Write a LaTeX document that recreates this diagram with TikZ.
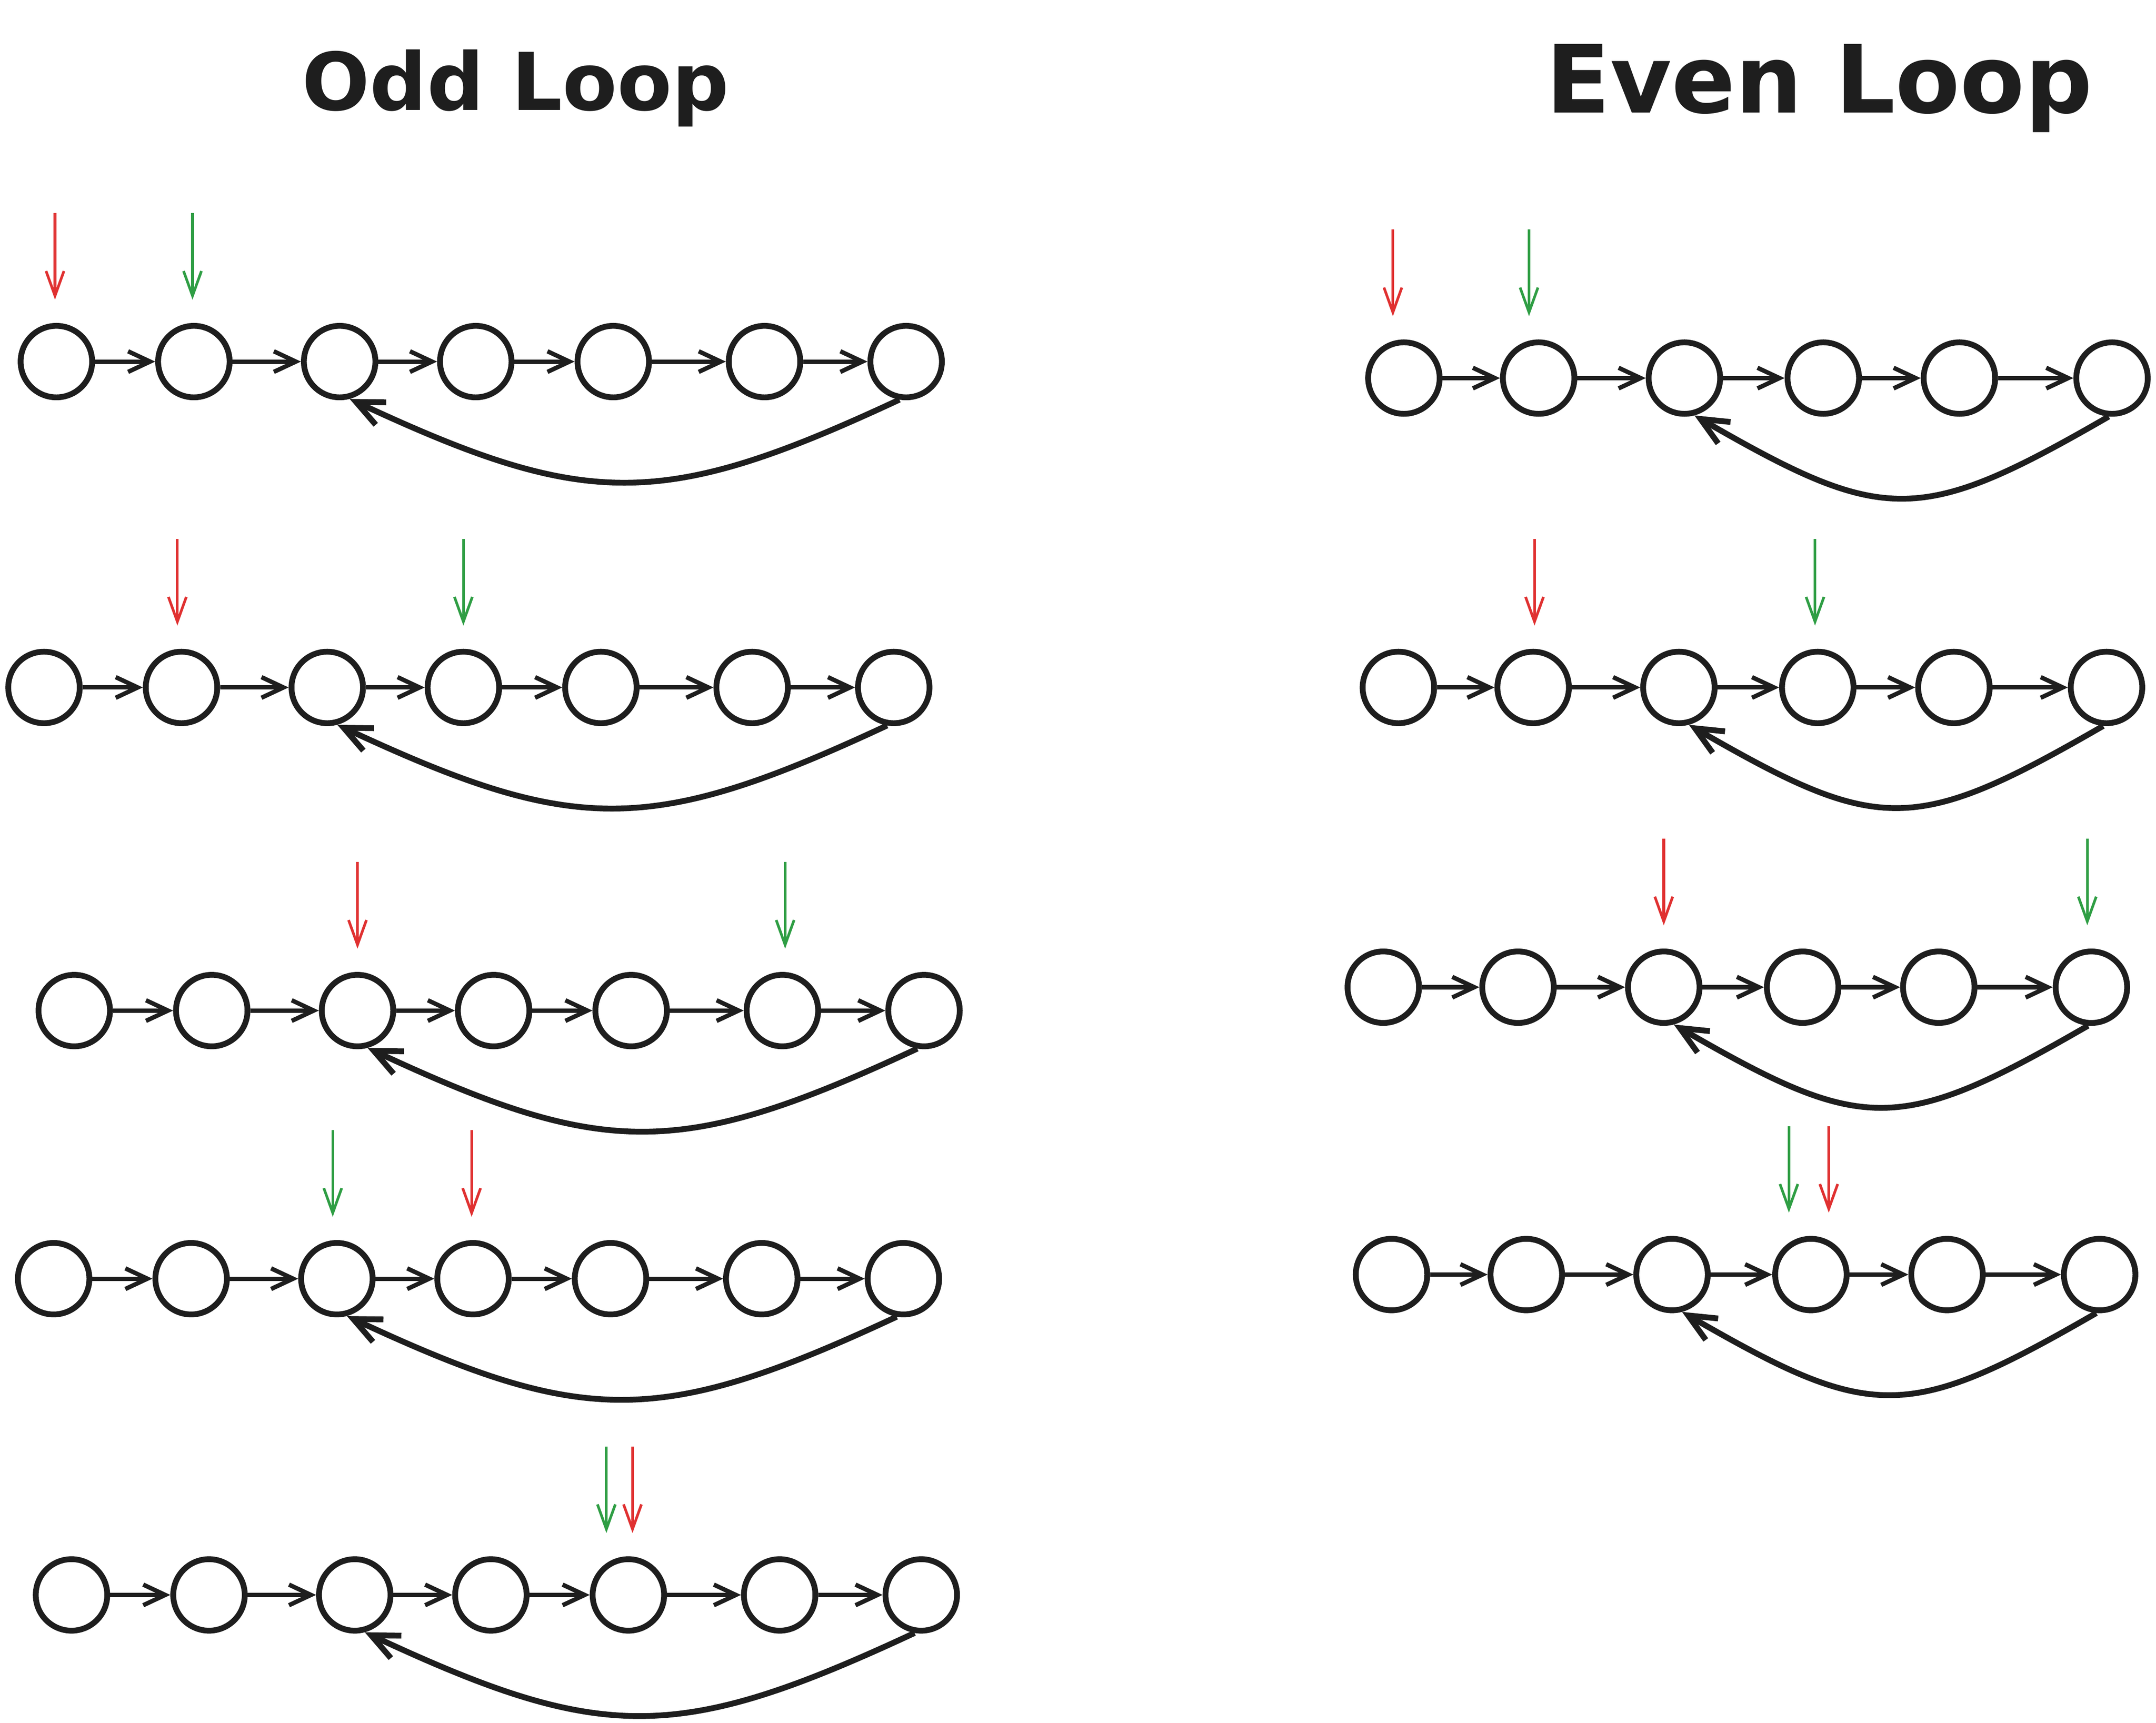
\documentclass[tikz,border=0pt]{standalone}
\usepackage{fontspec}
\setmainfont{DejaVu Sans}
\usetikzlibrary{arrows.meta,positioning,calc}

\definecolor{ink}{HTML}{1E1E1E}
\definecolor{ptrred}{HTML}{E03131}
\definecolor{ptrgreen}{HTML}{2F9E44}

\tikzset{
    dot/.style={circle, draw=ink, line width=1.2pt, minimum size=0.52cm, inner sep=0pt},
    link/.style={draw=ink, line width=0.9pt, -{Straight Barb[length=1.6mm,width=1.5mm]}},
    back/.style={draw=ink, line width=1.2pt, -{Straight Barb[length=2mm,width=1.8mm]}},
    ptr/.style={draw=#1, line width=0.55pt, -{Straight Barb[length=1.8mm,width=1.3mm]}}
}

\begin{document}
\begin{tikzpicture}
    \useasboundingbox (0,0) rectangle (15.68,12.53);
    % titles
    \node[anchor=base, text=ink, font=\bfseries\fontsize{16.5}{20}\selectfont] (oddtitle) at (3.75,11.73) {Odd Loop};
    \node[anchor=base, text=ink, font=\bfseries\fontsize{19.5}{23}\selectfont] (eventitle) at (13.23,11.71) {Even Loop};

    % odd loop rows
    \foreach \r/\x/\y in {
        o1/0.41/9.90,
        o2/0.32/7.53,
        o3/0.54/5.18,
        o4/0.39/3.23,
        o5/0.52/0.93
    } {
        \foreach \i/\dx in {1/0, 2/1.00, 3/2.06, 4/3.05, 5/4.05, 6/5.15, 7/6.18} {
            \node[dot] (\r-\i) at (\x+\dx, \y) {};
        }
        \foreach \i/\j in {1/2, 2/3, 3/4, 4/5, 5/6, 6/7} {
            \draw[link] (\r-\i) -- (\r-\j);
        }
        \draw[back] (\r-7.-100) to[out=205, in=-25, looseness=1.22] (\r-3.-75);
    }

    % even loop rows
    \foreach \r/\x/\y in {
        e1/10.21/9.78,
        e2/10.17/7.53,
        e3/10.06/5.35,
        e4/10.12/3.26
    } {
        \foreach \i/\dx in {1/0, 2/0.98, 3/2.04, 4/3.05, 5/4.04, 6/5.15} {
            \node[dot] (\r-\i) at (\x+\dx, \y) {};
        }
        \foreach \i/\j in {1/2, 2/3, 3/4, 4/5, 5/6} {
            \draw[link] (\r-\i) -- (\r-\j);
        }
        \draw[back] (\r-6.-95) to[out=210, in=-30, looseness=1.35] (\r-3.-75);
    }

    % pointers
    \foreach \n/\s/\c in {
        o1-1/-0.01/ptrred, o1-2/-0.01/ptrgreen,
        o2-2/-0.03/ptrred, o2-4/0/ptrgreen,
        o3-3/0/ptrred, o3-6/0.02/ptrgreen,
        o4-3/-0.03/ptrgreen, o4-4/-0.01/ptrred,
        o5-5/-0.16/ptrgreen, o5-5/0.03/ptrred,
        e1-1/-0.08/ptrred, e1-2/-0.07/ptrgreen,
        e2-2/0.01/ptrred, e2-4/-0.02/ptrgreen,
        e3-3/0/ptrred, e3-6/-0.03/ptrgreen,
        e4-4/-0.16/ptrgreen, e4-4/0.13/ptrred} {
        \draw[ptr=\c] ([shift={(\s,1.08)}]\n.center) -- ([shift={(\s,0.45)}]\n.center);
    }
\end{tikzpicture}
\end{document}
